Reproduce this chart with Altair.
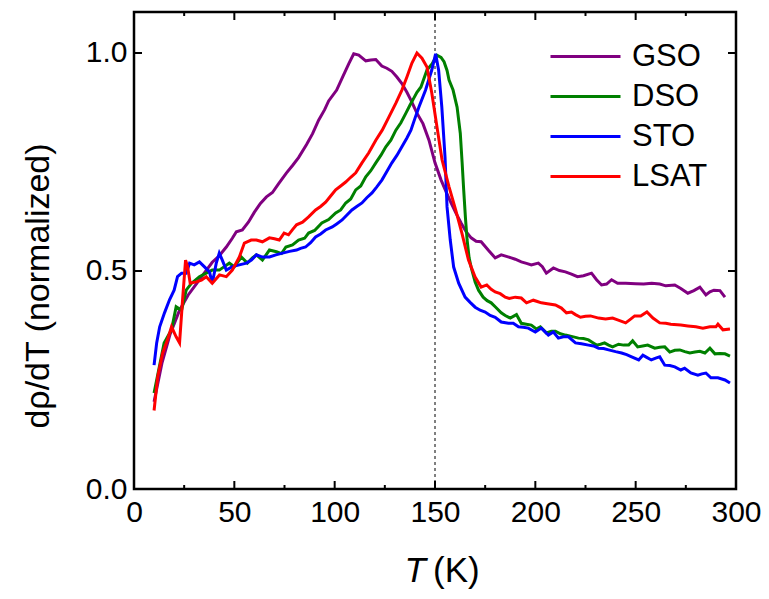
import altair as alt
import pandas as pd

# ---------------- data ----------------
series_names = ["GSO", "DSO", "STO", "LSAT"]
series_colors = ["#800080", "#008000", "#0000ff", "#ff0000"]

gso_T = [10, 14, 18, 22.7, 27, 31, 35, 39, 42.5, 46, 49, 51, 54, 57, 60, 63, 66, 69, 72, 76, 79, 82, 86, 89, 92, 95, 97,
         101, 104, 107, 109.5, 112, 115.5, 118, 120.5, 123.5, 126, 128.5, 131, 133.5, 136, 138, 141, 144, 147, 150, 153,
         155.5, 158, 160.5, 163, 165.5, 168, 170.5, 173, 176.5, 180, 183, 186, 188, 190, 193, 196, 198, 201.5, 203.5,
         205.5, 209, 212, 215, 218, 221, 224, 228, 230.5, 233, 235.5, 238, 241, 245, 250, 254, 258, 262, 265, 269.5,
         272.5, 276, 279, 282, 285, 287, 289, 292, 294.5]
gso_v = [0.20, 0.29, 0.355, 0.41, 0.445, 0.47, 0.495, 0.52, 0.535, 0.555, 0.575, 0.59, 0.594, 0.612, 0.635, 0.655, 0.67,
         0.68, 0.70, 0.725, 0.742, 0.76, 0.79, 0.815, 0.846, 0.87, 0.89, 0.915, 0.945, 0.975, 0.998, 0.995, 0.982, 0.984,
         0.985, 0.97, 0.965, 0.958, 0.945, 0.93, 0.91, 0.892, 0.862, 0.838, 0.80, 0.748, 0.709, 0.682, 0.656, 0.632, 0.61,
         0.59, 0.576, 0.568, 0.567, 0.548, 0.53, 0.537, 0.533, 0.53, 0.527, 0.521, 0.517, 0.514, 0.518, 0.51, 0.495, 0.507,
         0.501, 0.498, 0.493, 0.487, 0.489, 0.495, 0.48, 0.468, 0.47, 0.48, 0.472, 0.472, 0.471, 0.47, 0.472, 0.47, 0.466,
         0.468, 0.46, 0.449, 0.455, 0.463, 0.445, 0.452, 0.456, 0.455, 0.44]

dso_T = [10, 13, 15, 18.7, 21, 23.7, 26, 28.7, 32.6, 36, 39, 42.5, 45, 47.5, 50, 53.5, 56.5, 59, 61, 64, 67.5, 71, 73.5,
         75.7, 79, 82, 85, 87, 90, 93.6, 97, 100.5, 103, 105.5, 108, 110.5, 113, 115.5, 118, 120.5, 123, 125.5, 128,
         130.5, 133, 135.5, 137.5, 139.5, 141, 143, 146, 148.5, 151, 153, 154.5, 156, 157, 159, 161, 162.6, 163.5, 164.3,
         165.2, 166, 167, 168, 170, 171.7, 174, 176, 178, 180, 183, 185, 187.5, 190.6, 193, 195.5, 198, 200.5, 202.5,
         205.5, 208, 210, 212.5, 215, 218, 221.5, 224, 226.5, 228.5, 230.5, 232.5, 234.5, 236.5, 238.5, 241.5, 244,
         246.5, 248.5, 251, 253.5, 256, 259.5, 262, 264.5, 267, 269.5, 272, 274.5, 277, 279.5, 282, 284.5, 287, 289.5,
         292, 294.5, 297]
dso_v = [0.22, 0.289, 0.335, 0.365, 0.418, 0.41, 0.456, 0.472, 0.487, 0.495, 0.502, 0.502, 0.51, 0.518, 0.51, 0.532,
         0.518, 0.53, 0.537, 0.525, 0.548, 0.544, 0.54, 0.555, 0.56, 0.571, 0.575, 0.587, 0.593, 0.61, 0.618, 0.633,
         0.64, 0.656, 0.665, 0.686, 0.695, 0.716, 0.73, 0.748, 0.765, 0.785, 0.80, 0.823, 0.84, 0.862, 0.88, 0.897, 0.91,
         0.922, 0.961, 0.975, 0.995, 0.99, 0.98, 0.96, 0.938, 0.915, 0.876, 0.816, 0.75, 0.686, 0.62, 0.571, 0.53, 0.509,
         0.475, 0.456, 0.44, 0.432, 0.427, 0.418, 0.404, 0.398, 0.392, 0.40, 0.38, 0.378, 0.376, 0.367, 0.372, 0.358,
         0.362, 0.362, 0.356, 0.353, 0.35, 0.346, 0.345, 0.342, 0.336, 0.33, 0.332, 0.335, 0.33, 0.326, 0.332, 0.33, 0.33,
         0.34, 0.326, 0.328, 0.33, 0.323, 0.325, 0.326, 0.314, 0.318, 0.319, 0.315, 0.312, 0.314, 0.316, 0.312, 0.323,
         0.31, 0.311, 0.31, 0.305]

sto_T = [10, 11.3, 12.8, 15.2, 17.7, 20, 21.7, 23.7, 26, 27.7, 30, 32.6, 35, 37.6, 39, 41, 42.5, 44, 46, 49, 52.5, 56,
         58.5, 61, 64, 67.5, 70.7, 74, 77.5, 81, 83, 85.5, 88, 90.5, 93, 95.5, 98.8, 101, 103.7, 106, 108.6, 111, 113.6,
         116, 118.6, 121, 123.6, 126, 128.5, 131, 133.5, 136, 138, 140, 142, 145.3, 148.4, 150.3, 151.8, 153.4, 155, 156,
         157.6, 159.3, 161.8, 165, 167.5, 170, 172.5, 175, 177.5, 180, 183, 186.6, 189, 191.6, 194, 196.5, 200, 203,
         206.5, 209, 211.5, 214, 216.5, 220, 223, 226.5, 229, 231.5, 234, 236.5, 240, 243, 245.5, 248, 251.5, 253.6,
         255.5, 257.8, 260, 262, 264.5, 267, 269.5, 272.5, 274.4, 277.5, 281, 283, 285, 287.5, 291, 294.5, 297]
sto_v = [0.284, 0.335, 0.372, 0.404, 0.434, 0.456, 0.487, 0.495, 0.495, 0.518, 0.514, 0.521, 0.51, 0.498, 0.472, 0.518,
         0.541, 0.525, 0.502, 0.51, 0.514, 0.518, 0.525, 0.537, 0.532, 0.532, 0.537, 0.541, 0.545, 0.548, 0.552, 0.555,
         0.565, 0.578, 0.585, 0.594, 0.601, 0.608, 0.617, 0.628, 0.64, 0.648, 0.656, 0.668, 0.679, 0.693, 0.709, 0.728,
         0.748, 0.765, 0.785, 0.805, 0.823, 0.85, 0.876, 0.915, 0.961, 0.998, 0.961, 0.876, 0.761, 0.647, 0.571, 0.509,
         0.472, 0.44, 0.428, 0.417, 0.41, 0.406, 0.398, 0.394, 0.383, 0.38, 0.38, 0.372, 0.371, 0.369, 0.36, 0.369, 0.353,
         0.36, 0.346, 0.349, 0.349, 0.335, 0.333, 0.33, 0.328, 0.323, 0.322, 0.319, 0.315, 0.312, 0.308, 0.303, 0.296,
         0.307, 0.302, 0.296, 0.30, 0.303, 0.284, 0.283, 0.28, 0.273, 0.277, 0.266, 0.261, 0.264, 0.266, 0.255, 0.255,
         0.25, 0.243]

lsat_T = [10, 11.8, 14.3, 16.7, 18.7, 21, 22.7, 24.3, 25.7, 26.7, 28, 31, 33.6, 36, 39, 42.6, 46, 49, 52.5, 55, 58.4,
          61, 64, 67.5, 70, 72.4, 74.8, 77, 79, 81, 84, 87, 90.5, 93, 95.5, 98, 100.5, 103, 105.5, 108, 110.5, 113.6, 117,
          120.5, 123.7, 127, 130.5, 133.5, 136, 138.5, 141, 143.5, 146, 148.4, 151, 153.5, 157, 160.3, 163.4, 166.7, 170,
          173, 175.8, 178, 180, 182.5, 185, 187, 190, 193, 195.6, 199, 201, 203, 206, 210, 213, 215.5, 218, 220, 222.5,
          225, 227.5, 231.5, 235, 238.5, 241, 245, 247, 249.5, 252.5, 255.6, 258.6, 262, 265, 267.5, 272.5, 276, 280,
          283.5, 287, 290, 291, 293.5, 297]
lsat_v = [0.18, 0.257, 0.312, 0.342, 0.372, 0.349, 0.335, 0.44, 0.525, 0.51, 0.472, 0.475, 0.479, 0.487, 0.472, 0.491,
          0.487, 0.502, 0.532, 0.564, 0.571, 0.571, 0.567, 0.576, 0.574, 0.571, 0.587, 0.583, 0.595, 0.606, 0.612, 0.624,
          0.64, 0.648, 0.658, 0.672, 0.686, 0.695, 0.704, 0.715, 0.725, 0.748, 0.771, 0.80, 0.823, 0.853, 0.885, 0.915,
          0.945, 0.977, 1.0, 0.988, 0.968, 0.908, 0.83, 0.755, 0.693, 0.64, 0.587, 0.525, 0.486, 0.463, 0.468, 0.458,
          0.452, 0.448, 0.44, 0.437, 0.44, 0.438, 0.427, 0.433, 0.43, 0.427, 0.425, 0.422, 0.415, 0.404, 0.406, 0.40,
          0.394, 0.396, 0.397, 0.392, 0.39, 0.392, 0.388, 0.381, 0.388, 0.397, 0.397, 0.406, 0.392, 0.381, 0.38, 0.378,
          0.376, 0.374, 0.372, 0.369, 0.372, 0.372, 0.378, 0.365, 0.367]

x_major = [0, 50, 100, 150, 200, 250, 300]
x_minor = [25, 75, 125, 175, 225, 275]
y_major = [0.0, 0.5, 1.0]
vline_T = [150]

# ---------------- build tables ----------------
rows = []
for name, Ts, vs in [("GSO", gso_T, gso_v), ("DSO", dso_T, dso_v), ("STO", sto_T, sto_v), ("LSAT", lsat_T, lsat_v)]:
    for i, (t, v) in enumerate(zip(Ts, vs)):
        rows.append({"T": t, "v": v, "sample": name, "idx": i})
df = pd.DataFrame(rows)

W, H = 602, 477
FONT = "Liberation Sans, Arial, sans-serif"

xscale = alt.Scale(domain=[0, 300], nice=False, zero=False)
yscale = alt.Scale(domain=[0, 1.094], nice=False, zero=True)

lines = alt.Chart(df).mark_line(strokeWidth=3).encode(
    x=alt.X("T:Q", scale=xscale,
            axis=alt.Axis(values=x_major, labelFontSize=30, labelFont=FONT, labelColor="black",
                          labelFlush=False, labelOverlap=False,
                          ticks=False, domain=False, grid=False, title=None, labelPadding=8)),
    y=alt.Y("v:Q", scale=yscale,
            axis=alt.Axis(values=y_major, format=".1f", labelFontSize=30, labelFont=FONT, labelColor="black",
                          labelFlush=False, labelOverlap=False,
                          ticks=False, domain=False, grid=False, title=None, labelPadding=7)),
    color=alt.Color("sample:N",
                    scale=alt.Scale(domain=series_names, range=series_colors),
                    legend=alt.Legend(orient="none", legendX=415, legendY=29, title=None,
                                      symbolType="stroke", symbolSize=4900, symbolStrokeWidth=3,
                                      labelFontSize=31, labelFont=FONT, labelColor="black",
                                      labelOffset=10, clipHeight=31, rowPadding=8, padding=0)),
    order=alt.Order("idx:Q"),
)

vline = alt.Chart(pd.DataFrame({"T": vline_T})).mark_rule(
    color="black", strokeWidth=1, strokeDash=[3, 3]
).encode(x=alt.X("T:Q", scale=xscale), y=alt.value(0), y2=alt.value(H))

xmaj = pd.DataFrame({"T": x_major})
xmin = pd.DataFrame({"T": x_minor})
ymaj = pd.DataFrame({"v": y_major})

tick_style = dict(color="black", strokeWidth=2)
xt_bot = alt.Chart(xmaj).mark_rule(**tick_style).encode(
    x=alt.X("T:Q", scale=xscale), y=alt.value(H), y2=alt.value(H - 8))
xt_top = alt.Chart(xmaj).mark_rule(**tick_style).encode(
    x=alt.X("T:Q", scale=xscale), y=alt.value(0), y2=alt.value(8))
xm_bot = alt.Chart(xmin).mark_rule(**tick_style).encode(
    x=alt.X("T:Q", scale=xscale), y=alt.value(H), y2=alt.value(H - 4))
xm_top = alt.Chart(xmin).mark_rule(**tick_style).encode(
    x=alt.X("T:Q", scale=xscale), y=alt.value(0), y2=alt.value(4))
yt_left = alt.Chart(ymaj).mark_rule(**tick_style).encode(
    y=alt.Y("v:Q", scale=yscale), x=alt.value(0), x2=alt.value(8))
yt_right = alt.Chart(ymaj).mark_rule(**tick_style).encode(
    y=alt.Y("v:Q", scale=yscale), x=alt.value(W), x2=alt.value(W - 8))

lab = pd.DataFrame({"a": [0]})
xtitle_T = alt.Chart(lab).mark_text(text="T", font=FONT, fontSize=35, fontStyle="italic",
                                    align="right", baseline="alphabetic", color="black").encode(
    x=alt.value(292), y=alt.value(570))
xtitle_K = alt.Chart(lab).mark_text(text="(K)", font=FONT, fontSize=35,
                                    align="left", baseline="alphabetic", color="black").encode(
    x=alt.value(299), y=alt.value(570))
ytitle = alt.Chart(lab).mark_text(text="d\u03c1/dT (normalized)", font=FONT, fontSize=34, angle=270,
                                  align="center", baseline="middle", color="black").encode(
    x=alt.value(-95), y=alt.value(274))

chart = alt.layer(
    vline, lines, xt_bot, xt_top, xm_bot, xm_top, yt_left, yt_right, xtitle_T, xtitle_K, ytitle
).properties(
    width=W, height=H, autosize="none",
    padding={"left": 126, "top": 4, "right": 25, "bottom": 102},
).configure(background="white").configure_view(stroke="black", strokeWidth=2.5)

chart.save("out.html", embed_options={"renderer": "svg", "actions": False})
